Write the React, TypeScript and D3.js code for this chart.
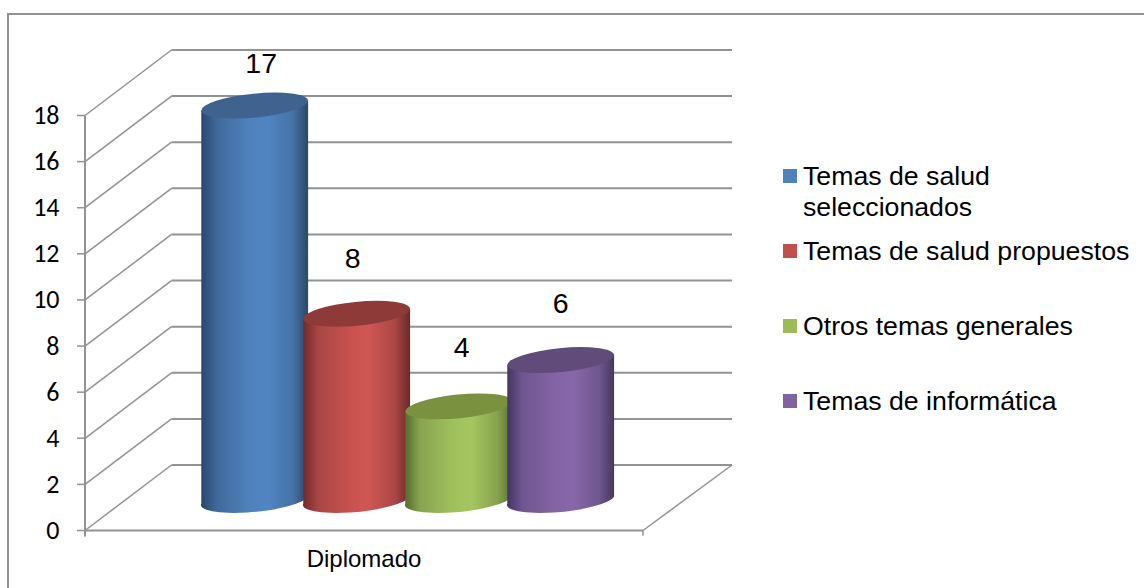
import React from "react";
import * as d3 from "d3";

const seriesNames = ["Temas de salud seleccionados", "Temas de salud propuestos", "Otros temas generales", "Temas de informática"];
const seriesValues = [17, 8, 4, 6];
const categoryLabels = ["Diplomado"];
const axisTicks = [0, 2, 4, 6, 8, 10, 12, 14, 16, 18];
const sideColors = [
  ["#27456c", "#3f6899", "#4f81bd", "#5084c2", "#4672a6", "#2b4766"],
  ["#6f2a29", "#a84644", "#c9524f", "#cf5653", "#a94745", "#6a2928"],
  ["#566b30", "#88a450", "#a0c05c", "#a5c65f", "#87a34e", "#58702f"],
  ["#43345f", "#6e5590", "#8464a6", "#8767a9", "#6f578f", "#463860"],
];
const capColors = ["#3f628f", "#8e3a39", "#7a9240", "#604b7a"];
const swatchColors = ["#4f81bd", "#c0504d", "#9bbb59", "#8064a2"];
const legendRows = [
  { lines: ["Temas de salud", "seleccionados"], y: 176 },
  { lines: ["Temas de salud propuestos"], y: 251 },
  { lines: ["Otros temas generales"], y: 326 },
  { lines: ["Temas de informática"], y: 401 },
];

const W = 1144;
const H = 588;
const GRID = "#939393";
const ARIAL = "'Liberation Sans', Arial, sans-serif";

// Floor plane: front-left corner, front-right corner, and the depth offset to the back wall.
const frontLeft = 85;
const frontRight = 643;
const depthX = 86.5;
const depthY = -65.5;

const yFront = d3.scaleLinear().domain([0, 18]).range([530.5, 115.5]);
const yColumn = d3.scaleLinear().domain([0, 18]).range([498.9, 82.4]);
const xColumn = d3.scaleBand<string>().domain(seriesNames).range([203.7, 611.7]);

// Tilted elliptical ends of each cylinder.
const capA = 53.6;
const capB = 11.9;
const capTilt = -5.6;
const halfWidth = 53.4;
const topEdgeDy = 5;
const baseEdgeDy = 3.5;
const baseDrop = 1;

function cylinderPath(cx: number, top: number, base: number) {
  return [
    `M${cx - halfWidth},${top + topEdgeDy}`,
    `L${cx - halfWidth},${base + baseEdgeDy}`,
    `A${capA},${capB} ${capTilt} 0 0 ${cx + halfWidth},${base - baseEdgeDy}`,
    `L${cx + halfWidth},${top - topEdgeDy}`,
    "Z",
  ].join(" ");
}

const gradientStops = [0, 0.14, 0.45, 0.62, 0.86, 1];
const labelOffsets = [
  { dx: 6.5, dy: -33 },
  { dx: -4, dy: -46 },
  { dx: 3, dy: -49.5 },
  { dx: 0, dy: -47.5 },
];

export default function App() {
  return (
    <svg
      width={W}
      height={H}
      viewBox={`0 0 ${W} ${H}`}
      style={{ position: "absolute", left: 0, top: 0, background: "#fff" }}
    >
      <defs>
        {sideColors.map((stops, i) => (
          <linearGradient key={i} id={`side-${i}`} x1="0" x2="1" y1="0" y2="0">
            {stops.map((c, j) => (
              <stop key={j} offset={gradientStops[j]} stopColor={c} />
            ))}
          </linearGradient>
        ))}
      </defs>

      {/* Frame: only the top and left edges fall inside the canvas */}
      <path d={`M8,${H} V14 H${W}`} fill="none" stroke={GRID} strokeWidth={2} />

      {/* Back wall and side wall gridlines */}
      <g stroke={GRID} fill="none">
        {axisTicks.map((t) => {
          const y = yFront(t);
          return (
            <g key={t}>
              <path
                d={`M${frontLeft},${y} L${frontLeft + depthX},${y + depthY}`}
                strokeWidth={1.5}
              />
              <path
                d={`M${frontLeft + depthX},${y + depthY} H${frontRight + depthX + 2.5}`}
                strokeWidth={2}
              />
              <path d={`M${frontLeft - 8},${y} H${frontLeft}`} strokeWidth={1.5} />
            </g>
          );
        })}
        <path d={`M${frontLeft},${yFront(18)} V${yFront(0) + 6}`} strokeWidth={2} />
        <path d={`M${frontLeft},${yFront(0)} H${frontRight}`} strokeWidth={2} />
        <path d={`M${frontRight},${yFront(0)} L${frontRight + depthX + 2.5},${yFront(0) + depthY}`} strokeWidth={1.5} />
        <path d={`M${frontRight},${yFront(0)} V${yFront(0) + 5}`} strokeWidth={1.5} />
      </g>

      {/* Axis labels */}
      <g fontFamily="Carlito, Calibri, 'Open Sans', sans-serif" fontSize={26} fill="#000" textAnchor="end">
        {axisTicks.map((t) => (
          <text key={t} x={59.5} y={yFront(t) + 8.5}>
            {t}
          </text>
        ))}
      </g>
      <text x={364} y={567} fontFamily={ARIAL} fontSize={24} textAnchor="middle" fill="#000">
        {categoryLabels[0]}
      </text>

      {/* Cylinders, drawn left to right so that each overlaps the previous one */}
      {seriesNames.map((name, i) => {
        const cx = (xColumn(name) as number) + xColumn.bandwidth() / 2;
        const top = yColumn(seriesValues[i]);
        const base = yColumn(0) + baseDrop;
        return (
          <g key={name}>
            <path d={cylinderPath(cx, top, base)} fill={`url(#side-${i})`} />
            <ellipse
              cx={cx}
              cy={top}
              rx={capA}
              ry={capB}
              fill={capColors[i]}
              transform={`rotate(${capTilt} ${cx} ${top})`}
            />
          </g>
        );
      })}

      {/* Value labels */}
      <g fontFamily={ARIAL} fontSize={28.5} fill="#000" textAnchor="middle">
        {seriesNames.map((name, i) => {
          const cx = (xColumn(name) as number) + xColumn.bandwidth() / 2;
          return (
            <text key={name} x={cx + labelOffsets[i].dx} y={yColumn(seriesValues[i]) + labelOffsets[i].dy}>
              {seriesValues[i]}
            </text>
          );
        })}
      </g>

      {/* Legend */}
      <g fontFamily={ARIAL} fontSize={26.7} fill="#000">
        {legendRows.map((row, i) => (
          <g key={i}>
            <rect x={783} y={row.y - 7} width={14} height={14} fill={swatchColors[i]} />
            {row.lines.map((line, j) => (
              <text key={j} x={803} y={row.y + 9 + j * 30.5}>
                {line}
              </text>
            ))}
          </g>
        ))}
      </g>
    </svg>
  );
}
